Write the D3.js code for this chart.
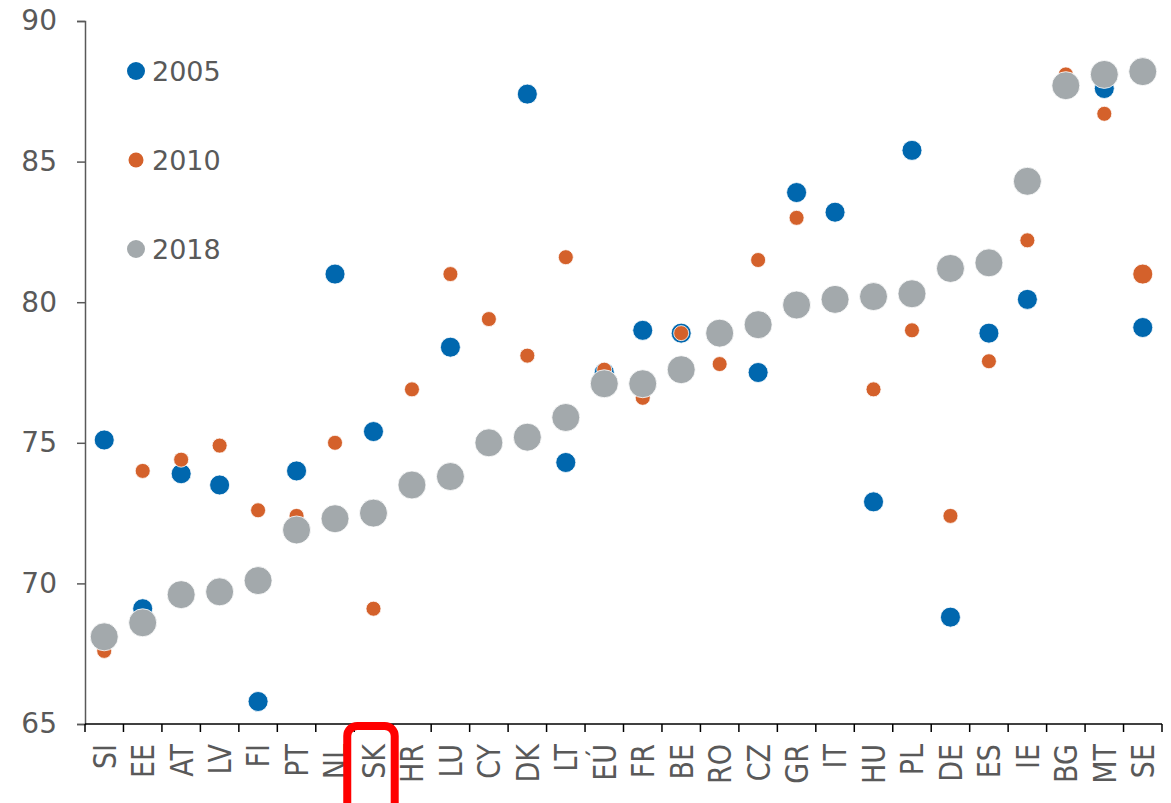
<!DOCTYPE html>
<html>
<head>
<meta charset="utf-8">
<script src="https://cdn.jsdelivr.net/npm/d3@7"></script>
<style>
  body { margin: 0; background: #fff; }
  text { font-family: "DejaVu Sans", Verdana, sans-serif; fill: #595959; }
</style>
</head>
<body>
<div id="chart"></div>
<script>
const countries = ['SI', 'EE', 'AT', 'LV', 'FI', 'PT', 'NL', 'SK', 'HR', 'LU', 'CY', 'DK', 'LT', 'EÚ',
  'FR', 'BE', 'RO', 'CZ', 'GR', 'IT', 'HU', 'PL', 'DE', 'ES', 'IE', 'BG', 'MT', 'SE'];
const years = ['2005', '2010', '2018'];
const v2005 = [75.1, 69.1, 73.9, 73.5, 65.8, 74.0, 81.0, 75.4, null, 78.4, null, 87.4, 74.3, 77.5,
  79.0, 78.9, null, 77.5, 83.9, 83.2, 72.9, 85.4, 68.8, 78.9, 80.1, null, 87.6, 79.1];
const v2010 = [67.6, 74.0, 74.4, 74.9, 72.6, 72.4, 75.0, 69.1, 76.9, 81.0, 79.4, 78.1, 81.6, 77.6,
  76.6, 78.9, 77.8, 81.5, 83.0, null, 76.9, 79.0, 72.4, 77.9, 82.2, 88.1, 86.7, 81.0];
const v2018 = [68.1, 68.6, 69.6, 69.7, 70.1, 71.9, 72.3, 72.5, 73.5, 73.8, 75.0, 75.2, 75.9, 77.1,
  77.1, 77.6, 78.9, 79.2, 79.9, 80.1, 80.2, 80.3, 81.2, 81.4, 84.3, 87.7, 88.1, 88.2];
const yTicks = [65, 70, 75, 80, 85, 90];
const highlighted = 'SK';

const width = 1171, height = 803;
const margin = { top: 21, right: 9, bottom: 79, left: 85 };

const svg = d3.select('#chart').append('svg')
  .attr('width', width)
  .attr('height', height);

const x = d3.scaleBand()
  .domain(countries)
  .range([margin.left, width - margin.right]);

const y = d3.scaleLinear()
  .domain([65, 90])
  .range([height - margin.bottom, margin.top]);

// y axis
const yAxis = svg.append('g')
  .attr('transform', `translate(${margin.left},0)`)
  .call(d3.axisLeft(y).tickValues(yTicks).tickSize(8).tickPadding(20));
yAxis.select('.domain').attr('stroke', '#595959').attr('stroke-width', 1.5);
yAxis.selectAll('.tick line').attr('stroke', '#595959').attr('stroke-width', 1.5);
yAxis.selectAll('.tick text')
  .attr('font-size', 28)
  .attr('font-family', '"DejaVu Sans", Verdana, sans-serif')
  .attr('fill', '#595959');

// x axis - ticks between categories
const x0 = height - margin.bottom;
const xAxis = svg.append('g');
xAxis.append('line')
  .attr('x1', margin.left).attr('x2', width - margin.right)
  .attr('y1', x0).attr('y2', x0)
  .attr('stroke', '#000').attr('stroke-width', 1.5);
xAxis.selectAll('.xtick')
  .data(countries.map(c => x(c)).concat([x.range()[1]]))
  .enter().append('line')
  .attr('x1', d => d).attr('x2', d => d)
  .attr('y1', x0).attr('y2', x0 + 8)
  .attr('stroke', '#000').attr('stroke-width', 1.5);
xAxis.selectAll('.xlabel')
  .data(countries)
  .enter().append('text')
  .attr('transform', d => `translate(${x(d) + x.bandwidth() / 2},${x0 + 20}) rotate(-90) scale(1,1.17)`)
  .attr('text-anchor', 'end')
  .attr('dy', '0.36em')
  .attr('font-size', 27)
  .text(d => d);

// highlight box around one label
svg.append('rect')
  .attr('x', x(highlighted) - 7)
  .attr('y', x0 + 2)
  .attr('width', x.bandwidth() + 9)
  .attr('height', 110)
  .attr('rx', 10)
  .attr('fill', 'none')
  .attr('stroke', '#ff0000')
  .attr('stroke-width', 8);

// points
const series = [
  { key: '2005', values: v2005, color: '#0067ae', r: 10 },
  { key: '2010', values: v2010, color: '#d4612b', r: 7.5 },
  { key: '2018', values: v2018, color: '#a3a9ac', r: 14 }
];

series.forEach(s => {
  svg.append('g').selectAll('circle')
    .data(countries.map((c, i) => ({ c, v: s.values[i] })).filter(d => d.v != null))
    .enter().append('circle')
    .attr('cx', d => x(d.c) + x.bandwidth() / 2)
    .attr('cy', d => y(d.v))
    .attr('r', d => (s.key === '2010' && d.c === 'SE') ? 10 : s.r)
    .attr('fill', s.color)
    .attr('stroke', '#fff')
    .attr('stroke-width', 0.8);
});

// legend
const legend = svg.append('g').attr('transform', 'translate(136,71)');
const legendR = [9, 7.5, 9];
years.forEach((yr, i) => {
  const g = legend.append('g').attr('transform', `translate(0,${i * 89})`);
  g.append('circle').attr('r', legendR[i]).attr('fill', series[i].color);
  g.append('text')
    .attr('x', 16)
    .attr('dy', '0.36em')
    .attr('font-size', 27)
    .text(yr);
});
</script>
</body>
</html>
